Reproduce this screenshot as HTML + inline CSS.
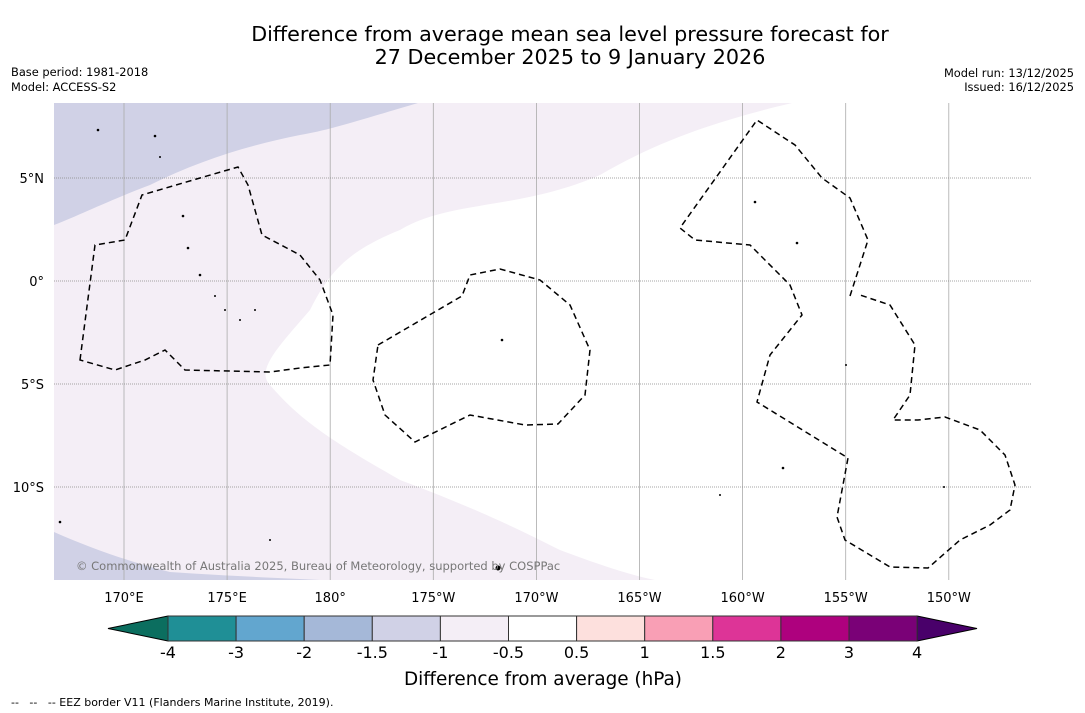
<!DOCTYPE html>
<html><head><meta charset="utf-8"><style>
body{margin:0;background:#fff;font-family:"DejaVu Sans","Liberation Sans",sans-serif;}
svg{display:block}
</style></head><body>
<svg width="1085" height="713" viewBox="0 0 1085 713">
<rect width="1085" height="713" fill="#fff"/>
<text x="570" y="41" font-size="20.7" text-anchor="middle">Difference from average mean sea level pressure forecast for</text>
<text x="570" y="64" font-size="20.7" text-anchor="middle">27 December 2025 to 9 January 2026</text>
<text x="11" y="76" font-size="11.4">Base period: 1981-2018</text>
<text x="11" y="91" font-size="11.4">Model: ACCESS-S2</text>
<text x="1074" y="77" font-size="11.4" text-anchor="end">Model run: 13/12/2025</text>
<text x="1074" y="91" font-size="11.4" text-anchor="end">Issued: 16/12/2025</text>
<g>
<clipPath id="mc"><rect x="54" y="103" width="977" height="477"/></clipPath>
<g clip-path="url(#mc)">
<rect x="54" y="103" width="977" height="477" fill="#fff"/>
<path fill="#f4eef6" d="M54,103 L792,103 C720,120 660,140 600,175 C520,210 450,200 400,230 C350,250 330,270 310,310 C280,345 255,370 270,385 C300,420 330,440 400,480 C480,510 520,530 560,550 C600,565 630,575 655,580 L54,580 Z"/>
<path fill="#d0d1e6" d="M54,103 L418,103 C360,120 330,130 300,135 C250,145 200,160 150,185 C110,200 80,215 54,225 Z"/>
<path fill="#d0d1e6" d="M54,532 C90,548 130,562 170,572 C230,576 280,578 320,580 L54,580 Z"/>
</g>
<g id="grid" stroke="#888" stroke-width="0.8"></g>
<g fill="none" stroke="#000" stroke-width="1.5" stroke-dasharray="6,4">
<path d="M80,360 L95,245 L125,240 L142,195 L200,178 L238,167 L248,185 L262,235 L300,255 L320,280 L333,315 L330,365 L300,368 L270,372 L185,370 L165,350 L145,360 L115,370 Z"/>
<path d="M378,345 L462,296 L470,275 L500,269 L540,280 L570,305 L590,350 L585,395 L558,424 L525,425 L470,415 L415,442 L385,415 L373,380 Z"/>
<path d="M850,296 L868,240 L850,198 L822,178 L795,145 L757,120 L680,228 L695,240 L750,245 L790,285 L802,315 L770,355 L757,402 L848,458 L837,517 L845,540 L890,567 L928,568 L960,540 L990,525 L1010,510 L1015,485 L1005,455 L980,430 L945,417 L918,420 L893,420 L910,395 L915,345 L890,305 L860,295"/>
</g>
<g fill="#000">
<circle cx="98" cy="130" r="1.3"/><circle cx="155" cy="136" r="1.3"/><circle cx="160" cy="157" r="1"/><circle cx="183" cy="216" r="1.3"/><circle cx="188" cy="248" r="1.3"/><circle cx="200" cy="275" r="1.3"/><circle cx="215" cy="296" r="1"/><circle cx="225" cy="310" r="1"/><circle cx="240" cy="320" r="1"/><circle cx="255" cy="310" r="1"/><circle cx="502" cy="340" r="1.3"/><circle cx="755" cy="202" r="1.3"/><circle cx="797" cy="243" r="1.3"/><circle cx="783" cy="468" r="1.3"/><circle cx="720" cy="495" r="1"/><circle cx="60" cy="522" r="1.3"/><circle cx="498" cy="568" r="2.5"/><circle cx="270" cy="540" r="1"/><circle cx="944" cy="487" r="1"/><circle cx="846" cy="365" r="1"/>
</g>
<text x="76" y="570" font-size="11.5" fill="#777">© Commonwealth of Australia 2025, Bureau of Meteorology, supported by COSPPac</text>
<g id="axislabels" font-size="13"></g>
</g>
<g id="colorbar"></g>
<text x="543" y="685" font-size="18.4" text-anchor="middle">Difference from average (hPa)</text>
<text x="11" y="706" font-size="11" xml:space="preserve">--   --   -- EEZ border V11 (Flanders Marine Institute, 2019).</text>
</svg>
<script>
const lonTicks=["170°E","175°E","180°","175°W","170°W","165°W","160°W","155°W","150°W"];
const lonValues=[170,175,180,185,190,195,200,205,210];
const latTicks=["5°N","0°","5°S","10°S"];
const latValues=[5,0,-5,-10];
const levelLabels=["-4","-3","-2","-1.5","-1","-0.5","0.5","1","1.5","2","3","4"];
const levelColors=["#1f8f96","#62a6cf","#a5b8d8","#d0d1e6","#f4eef6","#ffffff","#fde0dd","#f99fb5","#dd3497","#ae017e","#7a0177"];
const extColors=["#0b6e5f","#49006a"];
const NS="http://www.w3.org/2000/svg";
function lonX(l){return 124+(l-170)*20.62;}
function latY(l){return 281-l*20.6;}
function mk(tag,attrs,parent){const e=document.createElementNS(NS,tag);for(const k in attrs)e.setAttribute(k,attrs[k]);parent.appendChild(e);return e;}
const grid=document.getElementById('grid'),al=document.getElementById('axislabels');
lonValues.forEach((v,i)=>{const x=lonX(v);
 const ln=mk('line',{x1:x,x2:x,y1:103,y2:580,stroke:'#aaa'},grid);
 
 
 const t=mk('text',{x:x,y:602,'text-anchor':'middle'},al);t.textContent=lonTicks[i];
 
 });
latValues.forEach((v,i)=>{const y=latY(v);
 const ln=mk('line',{x1:54,x2:1031,y1:y,y2:y,'stroke-dasharray':'1,1'},grid);
 
 
 const t=mk('text',{x:44,y:y+5,'text-anchor':'end'},al);t.textContent=latTicks[i];
 
 });
const cb=document.getElementById('colorbar');
const x0=168,w=68.1,y0=616,h=25;
const l=mk('polygon',{points:`${x0},${y0} ${x0},${y0+h} 108,${y0+h/2}`,fill:extColors[0],stroke:'#000','stroke-width':1},cb);


const xe=x0+w*levelColors.length;
const r=mk('polygon',{points:`${xe},${y0} ${xe},${y0+h} 977,${y0+h/2}`,fill:extColors[1],stroke:'#000','stroke-width':1},cb);


levelColors.forEach((c,i)=>{const b=mk('rect',{x:x0+i*w,y:y0,width:w,height:h,fill:c,stroke:'#333','stroke-width':1},cb);
 
 });
levelLabels.forEach((s,i)=>{const t=mk('text',{x:x0+i*w,y:658,'text-anchor':'middle','font-size':16},cb);t.textContent=s;
 
 });
</script>
</body></html>
